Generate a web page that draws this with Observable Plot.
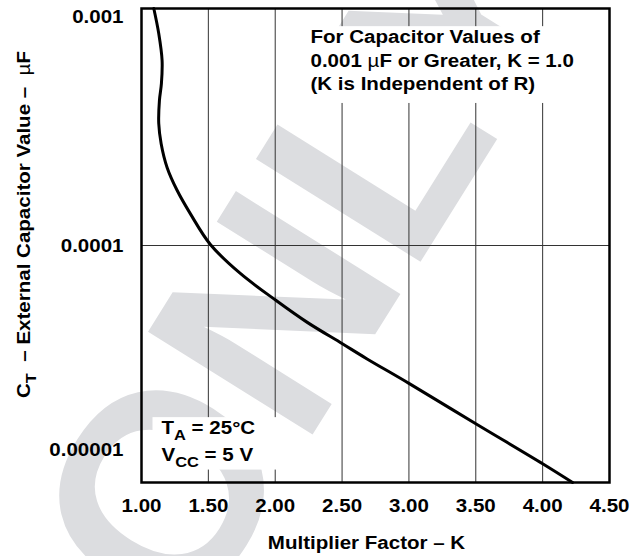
<!DOCTYPE html>
<html>
<head>
<meta charset="utf-8">
<script src="https://cdn.jsdelivr.net/npm/d3@7"></script>
<script src="https://cdn.jsdelivr.net/npm/@observablehq/plot@0.6"></script>
<style>
  html, body { margin: 0; padding: 0; background: #fff; }
  #chart { width: 636px; height: 556px; }
</style>
</head>
<body>
<div id="chart"></div>
<script>
// ---- data ----
const curveK = [1.092, 1.129, 1.154, 1.149, 1.134, 1.129, 1.147, 1.192, 1.266, 1.366, 1.515, 1.739, 2.007, 2.237, 2.502, 2.684, 3.0, 3.5, 4.0, 4.224];
const curveC = [1.0e-3, 7.84e-4, 6.03e-4, 4.83e-4, 4.09e-4, 3.27e-4, 2.69e-4, 2.13e-4, 1.71e-4, 1.36e-4, 1.01e-4, 7.62e-5, 5.86e-5, 4.75e-5, 3.85e-5, 3.33e-5, 2.62e-5, 1.77e-5, 1.20e-5, 1.0e-5];
const xTicks = [1.0, 1.5, 2.0, 2.5, 3.0, 3.5, 4.0, 4.5];
const xGrid = [1.5, 2.0, 2.5, 3.0, 3.5, 4.0];
const yTicks = [0.001, 0.0001, 0.00001];
const yTickLabels = ["0.001", "0.0001", "0.00001"];
const yGrid = [0.0001];
const xTitle = "Multiplier Factor – K";
const yTitle = "C_{T}  – External Capacitor Value –  µF";
const noteTop = ["For Capacitor Values of", "0.001 µF or Greater, K = 1.0", "(K is Independent of R)"];
const noteBottom = ["T_{A} = 25°C", "V_{CC} = 5 V"];
const watermark = "ONLY";

// ---- chart ----
const FS = 18.5;
const STRETCH = 1.11;
const FONT = '"Liberation Sans", Arial, Helvetica, sans-serif';
const points = curveK.map((k, i) => ({k, c: curveC[i]}));

const yAxis = (i, dy) => Plot.axisY([yTicks[i]], {
  tickSize: 0, tickPadding: 18, dy, label: null,
  tickFormat: () => yTickLabels[i]
});

const chart = Plot.plot({
  width: 636,
  height: 556,
  marginLeft: 141,
  marginRight: 27,
  marginTop: 8,
  marginBottom: 74,
  style: {
    fontFamily: FONT, fontSize: FS + "px", fontWeight: "bold",
    color: "#000", background: "#fff", overflow: "visible"
  },
  x: {domain: [1, 4.5]},
  y: {type: "log", domain: [1e-5, 1e-3]},
  marks: [
    Plot.text([watermark], {text: d => d, frameAnchor: "middle", dx: -65, dy: 22, rotate: -58,
      fontSize: 282, fill: "#dcdde0", fontWeight: "bold"}),
    Plot.ruleX(xGrid, {stroke: "#333", strokeWidth: 1}),
    Plot.ruleY(yGrid, {stroke: "#333", strokeWidth: 1}),
    Plot.text([noteTop.join("\n")], {text: d => d, frameAnchor: "top-left", dx: 169, dy: 18,
      textAnchor: "start", lineAnchor: "top", lineHeight: 1.27, fill: "#000"}),
    Plot.text([noteBottom.join("\n")], {text: d => d, frameAnchor: "top-left", dx: 20, dy: 406.5,
      textAnchor: "start", lineAnchor: "top", lineHeight: 1.46, fill: "#000"}),
    Plot.line(points, {x: "k", y: "c", curve: "catmull-rom", stroke: "#000", strokeWidth: 3}),
    Plot.frame({stroke: "#000", strokeWidth: 2.5}),
    Plot.axisX(xTicks, {tickSize: 0, tickPadding: 16.5, label: null, tickFormat: d3.format(".2f")}),
    yAxis(0, 8.5),
    yAxis(1, 1),
    yAxis(2, -32.5),
    Plot.text([xTitle], {text: d => d, frameAnchor: "bottom", dx: -9, dy: 61, lineAnchor: "middle", fill: "#000"}),
    Plot.text([yTitle], {text: d => d, frameAnchor: "left", dx: -117, dy: -21, rotate: -90,
      lineAnchor: "middle", textAnchor: "middle", fill: "#000"})
  ]
});

document.getElementById("chart").appendChild(chart);

// ---- post-processing: subscripts, symbol glyphs, glyph width, white label boxes ----
const NS = "http://www.w3.org/2000/svg";
const texts = Array.from(chart.querySelectorAll("text"));
const topEl = texts.find(t => t.textContent.startsWith("For Capacitor"));
const botEl = texts.find(t => t.textContent.includes("25°C"));

function richText(svg) {
  const walker = document.createTreeWalker(svg, NodeFilter.SHOW_TEXT);
  const nodes = [];
  while (walker.nextNode()) {
    const v = walker.currentNode.nodeValue;
    if (v.includes("_{") || v.includes("µ")) nodes.push(walker.currentNode);
  }
  for (const node of nodes) {
    const parent = node.parentNode;
    const fs = parseFloat(getComputedStyle(parent).fontSize) || FS;
    const shift = 0.3 * fs;
    const parts = node.nodeValue.split(/(_\{[^}]*\}|µ)/).filter(s => s.length);
    const frag = document.createDocumentFragment();
    let pending = 0;
    for (const p of parts) {
      const t = document.createElementNS(NS, "tspan");
      if (p.startsWith("_{")) {
        t.textContent = p.slice(2, -1);
        t.setAttribute("font-size", (0.8 * fs) + "px");
        t.setAttribute("dy", shift + pending);
        pending = -shift;
      } else {
        t.textContent = p;
        if (p === "µ") t.setAttribute("font-weight", "normal");
        if (pending) t.setAttribute("dy", pending);
        pending = 0;
      }
      frag.appendChild(t);
    }
    if (pending) {
      const t = document.createElementNS(NS, "tspan");
      t.textContent = "\u200B";
      t.setAttribute("dy", pending);
      frag.appendChild(t);
    }
    parent.replaceChild(frag, node);
  }
}
richText(chart);

// the reference lettering is slightly wider than Liberation Sans: stretch each label about its anchor
for (const t of texts) {
  if (t.textContent === watermark) continue;
  const tr = t.getAttribute("transform") || "";
  t.setAttribute("transform", (tr + ` scale(${STRETCH},1)`).trim());
}

function addBox(el, pad) {
  if (!el) return;
  const sr = chart.getBoundingClientRect();
  const r = el.getBoundingClientRect();
  const rect = document.createElementNS(NS, "rect");
  rect.setAttribute("x", r.left - sr.left - pad[3]);
  rect.setAttribute("y", r.top - sr.top - pad[0]);
  rect.setAttribute("width", r.width + pad[1] + pad[3]);
  rect.setAttribute("height", r.height + pad[0] + pad[2]);
  rect.setAttribute("fill", "#fff");
  let g = el;
  while (g.parentNode && g.parentNode !== chart) g = g.parentNode;
  chart.insertBefore(rect, g);
}
addBox(topEl, [0, 6, 9, 10]);
addBox(botEl, [0, 24, 0, 9]);
</script>
</body>
</html>
